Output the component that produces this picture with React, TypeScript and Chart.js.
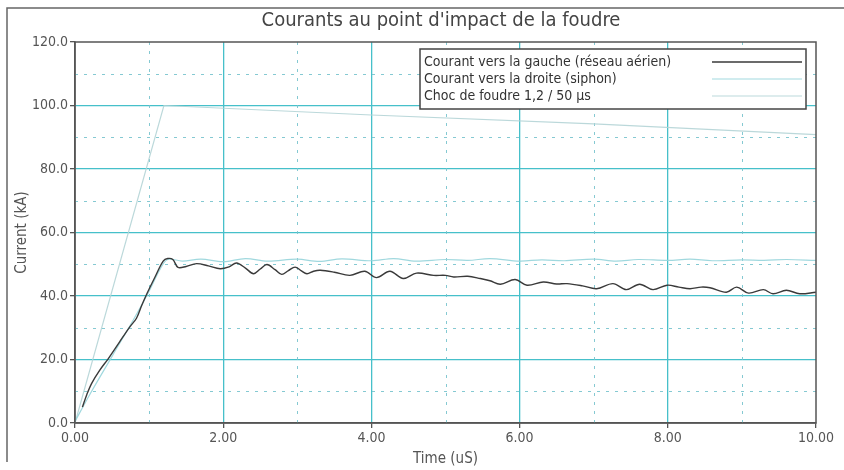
import React, { useEffect, useRef } from "react";
import { Chart, registerables } from "chart.js";

Chart.register(...registerables);

const TITLE = "Courants au point d'impact de la foudre";
const X_TITLE = "Time (uS)";
const Y_TITLE = "Current (kA)";
const LEGEND_LABELS = [
  "Courant vers la gauche (réseau aérien)",
  "Courant vers la droite (siphon)",
  "Choc de foudre 1,2 / 50 µs",
];

// Courant vers la gauche (réseau aérien)
const gaucheT = [0.1, 0.16, 0.225, 0.33, 0.45, 0.6, 0.74, 0.83, 0.9, 0.97, 1.08, 1.19, 1.25, 1.32, 1.39, 1.5, 1.64, 1.8, 1.96, 2.08, 2.18, 2.3, 2.41, 2.5, 2.59, 2.7, 2.79, 2.88, 2.97, 3.05, 3.13, 3.22, 3.31, 3.5, 3.71, 3.91, 4.07, 4.25, 4.43, 4.61, 4.84, 5.0, 5.11, 5.3, 5.47, 5.6, 5.74, 5.94, 6.1, 6.32, 6.5, 6.64, 6.85, 7.04, 7.26, 7.44, 7.62, 7.8, 7.99, 8.15, 8.3, 8.45, 8.57, 8.79, 8.93, 9.09, 9.29, 9.42, 9.6, 9.78, 10.0];
const gaucheI = [5, 9, 12.5, 16.5, 20.3, 25.5, 30.3, 33, 37, 40.7, 46, 51, 51.8, 51.5, 49, 49.3, 50.2, 49.5, 48.6, 49.2, 50.4, 48.8, 47, 48.5, 49.9, 48.3, 46.8, 48, 49.1, 48, 47, 47.8, 48.1, 47.5, 46.5, 47.8, 45.8, 47.8, 45.5, 47.2, 46.5, 46.5, 46, 46.2, 45.5, 44.8, 43.7, 45.2, 43.4, 44.4, 43.8, 43.9, 43.2, 42.3, 43.9, 42, 43.7, 42, 43.4, 42.8, 42.3, 42.8, 42.6, 41.2, 42.8, 40.9, 42, 40.7, 41.8, 40.7, 41.2];

// Courant vers la droite (siphon)
const siphonT = [0, 0.2, 0.5, 0.8, 1.0, 1.15, 1.25, 1.45, 1.7, 2.0, 2.3, 2.6, 3.0, 3.3, 3.6, 4.0, 4.3, 4.6, 5.0, 5.3, 5.6, 6.0, 6.3, 6.6, 7.0, 7.3, 7.6, 8.0, 8.3, 8.6, 9.0, 9.3, 9.6, 10.0];
const siphonI = [0.5, 9, 21, 33, 41.5, 48.5, 51.5, 51, 51.6, 50.8, 51.8, 51, 51.6, 50.9, 51.7, 51.1, 51.8, 51, 51.5, 51.2, 51.8, 51, 51.4, 51.1, 51.6, 51, 51.5, 51.2, 51.6, 51.1, 51.4, 51.2, 51.5, 51.2];

// Choc de foudre 1,2 / 50 µs
const chocT = [0, 1.2, 4.0, 7.0, 10.0];
const chocI = [0, 100, 97, 94.2, 90.8];

const xMajorTicks = [0, 2, 4, 6, 8, 10];
const yMajorTicks = [0, 20, 40, 60, 80, 100, 120];
const xMinorGrid = [1, 3, 5, 7, 9];
const yMinorGrid = [10, 30, 50, 70, 90, 110];

const FONT = "'Liberation Sans Narrow', 'DejaVu Sans Condensed', 'Liberation Sans', sans-serif";

const toPoints = (t: number[], v: number[]) => t.map((x, i) => ({ x, y: v[i] }));

const decorPlugin = {
  id: "decor",
  beforeDatasetsDraw(chart: any) {
    const { ctx, chartArea: a, scales } = chart;
    ctx.save();
    ctx.strokeStyle = "rgba(120,195,205,0.9)";
    ctx.lineWidth = 1;
    ctx.setLineDash([3, 6]);
    yMinorGrid.forEach((v) => {
      const y = Math.round(scales.y.getPixelForValue(v)) + 0.5;
      ctx.beginPath();
      ctx.moveTo(a.left, y);
      ctx.lineTo(a.right, y);
      ctx.stroke();
    });
    xMinorGrid.forEach((v) => {
      const x = Math.round(scales.x.getPixelForValue(v)) + 0.5;
      ctx.beginPath();
      ctx.moveTo(x, a.top);
      ctx.lineTo(x, a.bottom);
      ctx.stroke();
    });
    ctx.restore();
  },
  afterDraw(chart: any) {
    const { ctx, chartArea: a } = chart;
    ctx.save();
    // plot frame
    ctx.strokeStyle = "#555";
    ctx.lineWidth = 1.5;
    ctx.strokeRect(a.left, a.top, a.right - a.left, a.bottom - a.top);
    // outer frame (top and left)
    ctx.strokeStyle = "#666";
    ctx.lineWidth = 1.5;
    ctx.beginPath();
    ctx.moveTo(844, 8);
    ctx.lineTo(7, 8);
    ctx.lineTo(7, 462);
    ctx.stroke();
    // title
    ctx.fillStyle = "#444";
    ctx.font = `20px ${FONT}`;
    ctx.textAlign = "center";
    ctx.textBaseline = "middle";
    ctx.fillText(TITLE, 441, 21);
    // legend
    const lx = 420, ly = 49, lw = 386, lh = 60;
    ctx.fillStyle = "#fff";
    ctx.fillRect(lx, ly, lw, lh);
    ctx.strokeStyle = "#444";
    ctx.lineWidth = 1.5;
    ctx.strokeRect(lx, ly, lw, lh);
    ctx.font = `14px ${FONT}`;
    ctx.textAlign = "left";
    ctx.fillStyle = "#333";
    const ds = chart.data.datasets;
    LEGEND_LABELS.forEach((lab, i) => {
      const y = ly + 13 + i * 17;
      ctx.fillText(lab, lx + 4, y);
      ctx.strokeStyle = ds[i].borderColor;
      ctx.lineWidth = ds[i].borderWidth;
      ctx.beginPath();
      ctx.moveTo(712, y);
      ctx.lineTo(802, y);
      ctx.stroke();
    });
    ctx.restore();
  },
};

export default function App() {
  const ref = useRef<HTMLCanvasElement>(null);
  useEffect(() => {
    document.body.style.margin = "0";
    const chart = new Chart(ref.current as HTMLCanvasElement, {
      type: "line",
      data: {
        datasets: [
          {
            label: LEGEND_LABELS[0],
            data: toPoints(gaucheT, gaucheI),
            borderColor: "#3a3a3a",
            borderWidth: 1.4,
            pointRadius: 0,
            tension: 0.35,
            fill: false,
          },
          {
            label: LEGEND_LABELS[1],
            data: toPoints(siphonT, siphonI),
            borderColor: "rgba(150,212,218,0.9)",
            borderWidth: 1.2,
            pointRadius: 0,
            tension: 0.35,
            fill: false,
          },
          {
            label: LEGEND_LABELS[2],
            data: toPoints(chocT, chocI),
            borderColor: "rgba(180,212,214,0.9)",
            borderWidth: 1.2,
            pointRadius: 0,
            tension: 0,
            fill: false,
          },
        ],
      },
      options: {
        animation: false,
        responsive: false,
        maintainAspectRatio: false,
        layout: { padding: { top: 42, right: 28, left: 0, bottom: 0 } },
        plugins: {
          legend: { display: false },
          title: { display: false },
          tooltip: { enabled: false },
        },
        scales: {
          x: {
            type: "linear",
            min: 0,
            max: 10,
            afterBuildTicks: (s: any) => {
              s.ticks = xMajorTicks.map((v) => ({ value: v }));
            },
            afterFit: (s: any) => {
              s.height = 47;
            },
            ticks: {
              callback: (v: any) => Number(v).toFixed(2),
              color: "#555",
              font: { family: FONT, size: 14 },
              padding: 2,
              maxRotation: 0,
            },
            grid: {
              color: (c: any) =>
                c.index === 0 || c.index === xMajorTicks.length - 1 ? "rgba(0,0,0,0)" : "rgb(70,192,202)",
              lineWidth: 1.3,
              tickLength: 5,
              tickColor: "#555",
            },
            border: { color: "#555", width: 1.5 },
            title: {
              display: true,
              text: X_TITLE,
              color: "#555",
              font: { family: FONT, size: 15 },
              padding: { top: 0, bottom: 2 },
            },
          },
          y: {
            type: "linear",
            min: 0,
            max: 120,
            afterBuildTicks: (s: any) => {
              s.ticks = yMajorTicks.map((v) => ({ value: v }));
            },
            afterFit: (s: any) => {
              s.width = 75;
            },
            ticks: {
              callback: (v: any) => Number(v).toFixed(1),
              color: "#555",
              font: { family: FONT, size: 14 },
              padding: 2,
            },
            grid: {
              color: (c: any) =>
                c.index === 0 || c.index === yMajorTicks.length - 1 ? "rgba(0,0,0,0)" : "rgb(70,192,202)",
              lineWidth: 1.3,
              tickLength: 5,
              tickColor: "#555",
            },
            border: { color: "#555", width: 1.5 },
            title: {
              display: true,
              text: Y_TITLE,
              color: "#555",
              font: { family: FONT, size: 15 },
              padding: 13,
            },
          },
        },
      },
      plugins: [decorPlugin],
    } as any);
    return () => chart.destroy();
  }, []);
  return <canvas ref={ref} width={844} height={470} style={{ display: "block" }} />;
}
